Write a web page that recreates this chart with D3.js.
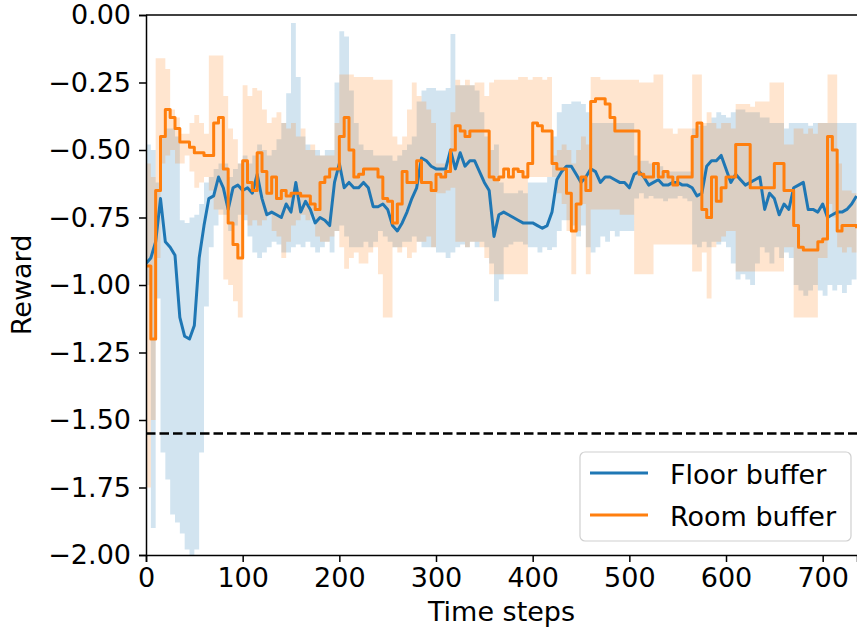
<!DOCTYPE html>
<meta charset="utf-8">
<style>
  body { margin: 0; background: #fff; }
  text { font-family: "DejaVu Sans", sans-serif; }
</style>
<body>
<div id="chart"></div>
<script src="https://cdn.jsdelivr.net/npm/d3@7"></script>
<script>
  // sampled every 5 time steps, t = 0 .. 735
  const step = 5;

  const floorMean = [
    -0.92, -0.90, -0.84, -0.68, -0.84, -0.86, -0.89, -1.12, -1.19, -1.20, -1.15, -0.90, -0.78, -0.68, -0.67, -0.60, -0.64, -0.72, -0.64, -0.63, -0.65, -0.64,
    -0.66, -0.59, -0.68, -0.74, -0.73, -0.74, -0.75, -0.70, -0.73, -0.62, -0.73, -0.69, -0.72, -0.77, -0.75, -0.76, -0.78, -0.62, -0.55, -0.64, -0.62,
    -0.64, -0.64, -0.62, -0.64, -0.71, -0.71, -0.70, -0.72, -0.78, -0.80, -0.77, -0.73, -0.68, -0.64, -0.53, -0.54, -0.56, -0.57, -0.57, -0.57, -0.50, -0.57,
    -0.51, -0.56, -0.54, -0.54, -0.58, -0.62, -0.65, -0.82, -0.74, -0.73, -0.74, -0.75, -0.76, -0.77, -0.77, -0.77, -0.78, -0.79, -0.78, -0.73, -0.61,
    -0.58, -0.56, -0.56, -0.59, -0.62, -0.60, -0.57, -0.58, -0.62, -0.60, -0.60, -0.61, -0.62, -0.62, -0.64, -0.59, -0.58, -0.60, -0.63, -0.62, -0.61,
    -0.63, -0.63, -0.62, -0.62, -0.63, -0.63, -0.64, -0.67, -0.66, -0.56, -0.54, -0.54, -0.52, -0.57, -0.62, -0.59, -0.61, -0.63, -0.62, -0.61, -0.60,
    -0.72, -0.66, -0.68, -0.74, -0.70, -0.72, -0.64, -0.63, -0.62, -0.72, -0.72, -0.73, -0.70, -0.75, -0.74, -0.73, -0.73, -0.72, -0.70, -0.67
  ];
  const floorHi = [
    -0.48, -0.50, -0.62, -0.45, -0.42, -0.42, -0.45, -0.76, -0.77, -0.75, -0.74, -0.70, -0.62, -0.60, -0.57, -0.55, -0.55, -0.60, -0.57, -0.55, -0.52, -0.55,
    -0.52, -0.48, -0.50, -0.52, -0.50, -0.46, -0.40, -0.29, -0.03, -0.23, -0.45, -0.48, -0.50, -0.50, -0.52, -0.50, -0.50, -0.25, -0.06, -0.08, -0.28,
    -0.40, -0.48, -0.50, -0.50, -0.52, -0.52, -0.52, -0.52, -0.54, -0.52, -0.50, -0.48, -0.45, -0.32, -0.28, -0.27, -0.27, -0.28, -0.28, -0.27, -0.07, -0.26,
    -0.26, -0.26, -0.26, -0.28, -0.36, -0.45, -0.50, -0.48, -0.62, -0.66, -0.66, -0.66, -0.65, -0.66, -0.62, -0.62, -0.62, -0.62, -0.60, -0.45, -0.36,
    -0.33, -0.33, -0.32, -0.32, -0.33, -0.36, -0.40, -0.40, -0.40, -0.40, -0.40, -0.40, -0.40, -0.40, -0.40, -0.52, -0.54, -0.54, -0.55, -0.55, -0.56,
    -0.58, -0.58, -0.58, -0.58, -0.58, -0.58, -0.42, -0.41, -0.41, -0.40, -0.38, -0.36, -0.37, -0.38, -0.36, -0.35, -0.35, -0.36, -0.36, -0.36, -0.38,
    -0.38, -0.40, -0.40, -0.40, -0.42, -0.40, -0.40, -0.40, -0.40, -0.41, -0.40, -0.40, -0.40, -0.40, -0.40, -0.40, -0.40, -0.40, -0.40, -0.40
  ];
  const floorLo = [
    -1.00, -1.90, -1.05, -1.62, -1.72, -1.85, -1.88, -1.92, -1.98, -2.00, -1.98, -1.62, -1.08, -0.86, -0.78, -0.72, -0.74, -0.80, -0.78, -0.74, -0.76, -0.82,
    -0.88, -0.90, -0.88, -0.86, -0.84, -0.85, -0.88, -0.88, -0.86, -0.85, -0.86, -0.84, -0.86, -0.88, -0.86, -0.84, -0.88, -0.80, -0.78, -0.82, -0.86,
    -0.86, -0.86, -0.84, -0.86, -0.84, -0.80, -0.82, -0.84, -0.86, -0.86, -0.84, -0.84, -0.82, -0.84, -0.86, -0.86, -0.86, -0.88, -0.88, -0.90, -0.88, -0.86,
    -0.85, -0.86, -0.84, -0.86, -0.84, -0.86, -0.92, -1.06, -0.98, -0.86, -0.85, -0.84, -0.84, -0.85, -0.86, -0.86, -0.88, -0.86, -0.87, -0.86, -0.80,
    -0.76, -0.76, -0.78, -0.82, -0.78, -0.86, -0.88, -0.86, -0.82, -0.84, -0.80, -0.82, -0.80, -0.80, -0.80, -0.68, -0.66, -0.68, -0.67, -0.68, -0.68,
    -0.69, -0.68, -0.68, -0.67, -0.68, -0.69, -0.85, -0.86, -0.84, -0.86, -0.84, -0.85, -0.84, -0.86, -0.92, -0.98, -0.96, -0.98, -1.00, -0.92, -0.86,
    -0.88, -0.92, -0.86, -0.90, -0.88, -0.90, -1.00, -1.02, -1.04, -1.02, -1.00, -1.02, -1.04, -1.00, -1.02, -1.00, -1.03, -1.00, -0.98, -0.98
  ];

  const roomMean = [
    -0.93, -1.20, -0.65, -0.45, -0.35, -0.38, -0.42, -0.47, -0.47, -0.49, -0.51, -0.51, -0.52, -0.52, -0.40, -0.38, -0.57, -0.77, -0.85, -0.90, -0.54, -0.62,
    -0.65, -0.51, -0.58, -0.66, -0.60, -0.68, -0.65, -0.67, -0.66, -0.66, -0.67, -0.67, -0.70, -0.72, -0.62, -0.60, -0.57, -0.57, -0.45, -0.38, -0.50,
    -0.60, -0.59, -0.57, -0.57, -0.57, -0.60, -0.68, -0.69, -0.77, -0.70, -0.58, -0.62, -0.62, -0.54, -0.62, -0.62, -0.65, -0.59, -0.60, -0.58, -0.50, -0.41,
    -0.43, -0.45, -0.43, -0.43, -0.43, -0.43, -0.60, -0.61, -0.60, -0.57, -0.60, -0.57, -0.58, -0.60, -0.55, -0.40, -0.41, -0.43, -0.43, -0.55, -0.57,
    -0.57, -0.66, -0.80, -0.70, -0.60, -0.65, -0.32, -0.31, -0.31, -0.33, -0.38, -0.43, -0.43, -0.43, -0.43, -0.43, -0.59, -0.60, -0.60, -0.55, -0.60,
    -0.58, -0.60, -0.63, -0.60, -0.60, -0.60, -0.45, -0.40, -0.72, -0.75, -0.60, -0.69, -0.64, -0.60, -0.60, -0.48, -0.48, -0.48, -0.64, -0.64, -0.64,
    -0.64, -0.64, -0.55, -0.55, -0.65, -0.65, -0.78, -0.86, -0.87, -0.87, -0.87, -0.84, -0.83, -0.45, -0.50, -0.80, -0.78, -0.78, -0.78, -0.79
  ];
  const roomHi = [
    -0.55, -0.60, -0.16, -0.16, -0.20, -0.35, -0.38, -0.44, -0.44, -0.40, -0.37, -0.40, -0.44, -0.15, -0.15, -0.15, -0.30, -0.42, -0.46, -0.55, -0.26, -0.30,
    -0.27, -0.28, -0.35, -0.40, -0.38, -0.36, -0.40, -0.42, -0.40, -0.45, -0.42, -0.50, -0.48, -0.52, -0.52, -0.52, -0.52, -0.40, -0.22, -0.22, -0.22,
    -0.23, -0.23, -0.23, -0.23, -0.24, -0.24, -0.24, -0.24, -0.45, -0.48, -0.45, -0.35, -0.25, -0.30, -0.32, -0.35, -0.40, -0.55, -0.55, -0.54, -0.36, -0.24,
    -0.26, -0.24, -0.26, -0.25, -0.25, -0.30, -0.25, -0.24, -0.24, -0.24, -0.24, -0.24, -0.23, -0.23, -0.24, -0.23, -0.23, -0.24, -0.23, -0.52, -0.50,
    -0.48, -0.50, -0.55, -0.50, -0.45, -0.48, -0.23, -0.23, -0.24, -0.24, -0.24, -0.24, -0.24, -0.24, -0.24, -0.24, -0.25, -0.25, -0.25, -0.22, -0.22,
    -0.42, -0.42, -0.44, -0.42, -0.42, -0.42, -0.22, -0.22, -0.40, -0.36, -0.40, -0.42, -0.40, -0.40, -0.42, -0.33, -0.33, -0.33, -0.34, -0.32, -0.32,
    -0.32, -0.25, -0.25, -0.25, -0.48, -0.48, -0.42, -0.42, -0.44, -0.42, -0.44, -0.40, -0.40, -0.22, -0.22, -0.55, -0.65, -0.65, -0.66, -0.66
  ];
  const roomLo = [
    -1.75, -1.50, -0.90, -0.55, -0.52, -0.50, -0.55, -0.55, -0.52, -0.58, -0.64, -0.62, -0.60, -0.65, -0.72, -0.74, -0.98, -1.00, -1.06, -1.12, -0.74, -0.78,
    -0.76, -0.78, -0.76, -0.74, -0.80, -0.82, -0.90, -0.84, -0.78, -0.76, -0.74, -0.76, -0.74, -0.82, -0.84, -0.84, -0.82, -0.80, -0.86, -0.94, -0.90,
    -0.88, -0.92, -0.92, -0.88, -0.86, -0.96, -1.12, -1.12, -0.86, -0.88, -0.86, -0.90, -0.88, -0.84, -0.84, -0.82, -0.86, -0.66, -0.66, -0.65, -0.64, -0.84,
    -0.84, -0.86, -0.84, -0.84, -0.86, -0.90, -0.96, -0.96, -0.96, -0.96, -0.96, -0.96, -0.96, -0.96, -0.60, -0.60, -0.60, -0.60, -0.60, -0.60, -0.66,
    -0.70, -0.80, -0.96, -0.80, -0.70, -0.96, -0.72, -0.72, -0.72, -0.72, -0.72, -0.72, -0.74, -0.74, -0.74, -0.96, -0.96, -0.96, -0.96, -0.85, -0.85,
    -0.85, -0.85, -0.85, -0.85, -0.85, -0.85, -0.95, -0.95, -0.88, -1.05, -0.86, -0.84, -0.82, -0.80, -0.80, -0.95, -0.95, -0.95, -0.95, -0.95, -0.95,
    -0.95, -0.95, -0.95, -0.95, -0.86, -0.86, -1.12, -1.12, -1.12, -1.12, -1.12, -0.90, -0.90, -0.70, -0.75, -0.86, -0.88, -0.86, -0.88, -0.88
  ];

  const yTicks = [0, -0.25, -0.5, -0.75, -1, -1.25, -1.5, -1.75, -2];
  const xTicks = [0, 100, 200, 300, 400, 500, 600, 700];
  const threshold = -1.55;

  const series = [
    { name: 'Floor buffer', color: '#1f77b4', mean: floorMean, hi: floorHi, lo: floorLo, curve: d3.curveLinear },
    { name: 'Room buffer', color: '#ff7f0e', mean: roomMean, hi: roomHi, lo: roomLo, curve: d3.curveStepAfter }
  ];

  const width = 857, height = 632;
  const margin = { top: 15, right: 0, bottom: 77, left: 146 };

  const svg = d3.select('#chart').append('svg')
      .attr('width', width)
      .attr('height', height);

  const x = d3.scaleLinear().domain([0, 735.5]).range([margin.left, width - margin.right]);
  const y = d3.scaleLinear().domain([-2, 0]).range([height - margin.bottom, margin.top]);

  svg.append('clipPath').attr('id', 'plot')
    .append('rect')
      .attr('x', x(0)).attr('y', y(0))
      .attr('width', x(735.5) - x(0)).attr('height', y(-2) - y(0));

  const plot = svg.append('g').attr('clip-path', 'url(#plot)');

  // bands (blocky, like the raw min/max envelope)
  series.forEach(s => {
    const area = d3.area()
        .curve(d3.curveStepAfter)
        .x((d, i) => x(i * step))
        .y0((d, i) => y(s.lo[i]))
        .y1((d, i) => y(s.hi[i]));
    plot.append('path')
        .datum(s.mean)
        .attr('d', area)
        .attr('fill', s.color)
        .attr('fill-opacity', 0.2);
  });

  // mean lines
  series.forEach(s => {
    const line = d3.line()
        .curve(s.curve)
        .x((d, i) => x(i * step))
        .y(d => y(d));
    plot.append('path')
        .datum(s.mean)
        .attr('d', line)
        .attr('fill', 'none')
        .attr('stroke', s.color)
        .attr('stroke-width', 3)
        .attr('stroke-linejoin', 'round');
  });

  // threshold
  svg.append('line')
      .attr('x1', x(0)).attr('x2', x(735.5))
      .attr('y1', y(threshold)).attr('y2', y(threshold))
      .attr('stroke', '#000')
      .attr('stroke-width', 2.5)
      .attr('stroke-dasharray', '9.5,4');

  // axes
  const xAxis = svg.append('g')
      .attr('transform', `translate(0,${y(-2)})`)
      .call(d3.axisBottom(x).tickValues(xTicks).tickFormat(d3.format('d')).tickSize(7).tickPadding(6));
  const yAxis = svg.append('g')
      .attr('transform', `translate(${x(0)},0)`)
      .call(d3.axisLeft(y).tickValues(yTicks).tickFormat(d3.format('.2f')).tickSize(7).tickPadding(8));

  [xAxis, yAxis].forEach(g => {
    g.selectAll('text').attr('font-size', 27).attr('fill', '#000').attr('font-family', '"DejaVu Sans", sans-serif');
    g.selectAll('line').attr('stroke', '#000').attr('stroke-width', 1.5);
    g.select('.domain').attr('stroke', '#000').attr('stroke-width', 1.5);
  });

  // top spine
  svg.append('line')
      .attr('x1', x(0)).attr('x2', width).attr('y1', y(0)).attr('y2', y(0))
      .attr('stroke', '#000').attr('stroke-width', 1.5);

  // axis labels
  svg.append('text')
      .attr('x', (x(0) + x(735.5)) / 2)
      .attr('y', 621)
      .attr('text-anchor', 'middle')
      .attr('font-size', 27)
      .text('Time steps');
  svg.append('text')
      .attr('transform', `translate(31,${(y(0) + y(-2)) / 2}) rotate(-90)`)
      .attr('text-anchor', 'middle')
      .attr('font-size', 27)
      .text('Reward');

  // legend
  const legend = svg.append('g');
  legend.append('rect')
      .attr('x', 580).attr('y', 452)
      .attr('width', 271).attr('height', 89)
      .attr('rx', 5)
      .attr('fill', '#fff').attr('fill-opacity', 0.8)
      .attr('stroke', '#d0d0d0').attr('stroke-width', 1.2);
  series.forEach((s, i) => {
    const ly = 473 + i * 42;
    legend.append('line')
        .attr('x1', 590).attr('x2', 648)
        .attr('y1', ly).attr('y2', ly)
        .attr('stroke', s.color).attr('stroke-width', 3);
    legend.append('text')
        .attr('x', 670).attr('y', ly + 11)
        .attr('font-size', 27)
        .text(s.name);
  });
</script>
